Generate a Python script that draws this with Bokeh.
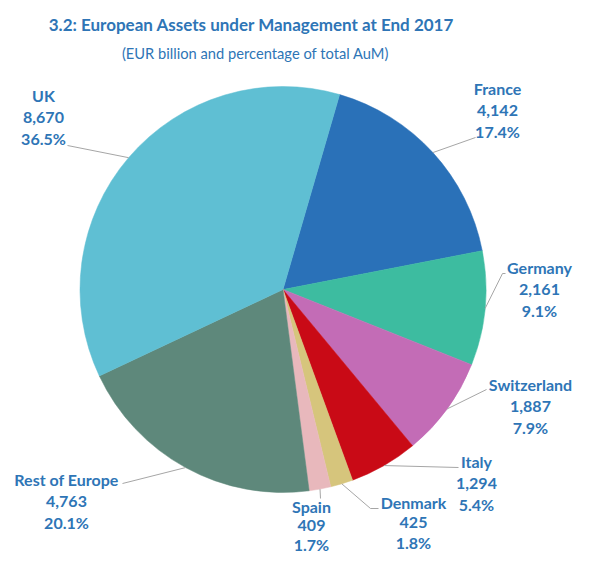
import numpy as np
from bokeh.plotting import figure
from bokeh.models import Range1d, ColumnDataSource
from bokeh.core.properties import value
from bokeh.embed import file_html
from bokeh.resources import INLINE

# ---- data ----
countries = ["France", "Germany", "Switzerland", "Italy", "Denmark", "Spain", "Rest of Europe", "UK"]
aum = [4142, 2161, 1887, 1294, 425, 409, 4763, 8670]
value_labels = ["4,142", "2,161", "1,887", "1,294", "425", "409", "4,763", "8,670"]
pct_labels = ["17.4%", "9.1%", "7.9%", "5.4%", "1.8%", "1.7%", "20.1%", "36.5%"]
colors = ["#2A71B8", "#3DBCA0", "#C36CB6", "#C90A16", "#D6C57C", "#E8B8BC", "#5E887B", "#5FBFD3"]

# ---- layout (image pixel coordinates, y downward) ----
W, H = 576, 554
CX, CY, R = 282.5, 289.0, 203.0
FIRST_ANGLE = 16.2  # degrees clockwise from 12 o'clock
TEXT_SHIFT = 7      # compensates for renderer placing alphabetic baseline lower
label_x = [497, 539, 530, 476, 413, 311, 66, 43]
label_y = [95, 274, 391, 468, 509, 513, 486, 102]   # baseline of first line
label_gap = [21.5, 21.5, 21.5, 21.5, 20, 19, 21.5, 21.5]
leader_end = [[(475, 137)], [(502, 273), (505, 273)], [(486, 389)], [(458, 467)],
              [(370, 508), (378, 508)], [(320, 498)], [(122, 483)], [(67, 145)]]
TXT = "#2E75B6"

def Y(v):
    return 570 - v

def TY(v):
    return 570 - (v - TEXT_SHIFT)

vals = np.array(aum, dtype=float)
fr = vals / vals.sum()
cum = np.concatenate([[0], np.cumsum(fr)]) * 360.0 + FIRST_ANGLE
theta1, theta2 = cum[:-1], cum[1:]
start = np.radians(90 - theta1)
end = np.radians(90 - theta2)

p = figure(width=W, height=H, output_backend="svg", toolbar_location=None,
           x_range=Range1d(0, W), y_range=Range1d(570 - H, 570),
           min_border=0, outline_line_color=None)
p.axis.visible = False
p.grid.visible = False
p.background_fill_color = "white"
p.border_fill_color = "white"

src = ColumnDataSource(dict(start=start, end=end, color=colors))
p.wedge(x=CX, y=Y(CY), radius=R, start_angle="start", end_angle="end",
        direction="clock", fill_color="color", line_color="color", line_width=0.5, source=src)

# leader lines
mid = np.radians((theta1 + theta2) / 2)
xs, ys = [], []
for i in range(len(countries)):
    px = [CX + R * np.sin(mid[i])] + [pt[0] for pt in leader_end[i]]
    py = [CY - R * np.cos(mid[i])] + [pt[1] for pt in leader_end[i]]
    xs.append(px)
    ys.append([Y(v) for v in py])
p.multi_line(xs=xs, ys=ys, line_color="#A6A6A6", line_width=1)

# labels
font = value("Lato")
for k, arr in enumerate([countries, value_labels, pct_labels]):
    p.text(x=label_x, y=[TY(v + k * g) for v, g in zip(label_y, label_gap)], text=arr,
           text_font=font, text_font_style="bold", text_font_size="16px",
           text_color=TXT, text_align="center", text_baseline="alphabetic")

# title and subtitle
p.text(x=[251], y=[TY(31)], text=["3.2: European Assets under Management at End 2017"],
       text_font=font, text_font_style="bold", text_font_size="17px",
       text_color=TXT, text_align="center", text_baseline="alphabetic")
p.text(x=[255], y=[TY(59)], text=["(EUR billion and percentage of total AuM)"],
       text_font=font, text_font_size="14.7px",
       text_color=TXT, text_align="center", text_baseline="alphabetic")

open("out.html", "w").write(file_html(p, INLINE))
